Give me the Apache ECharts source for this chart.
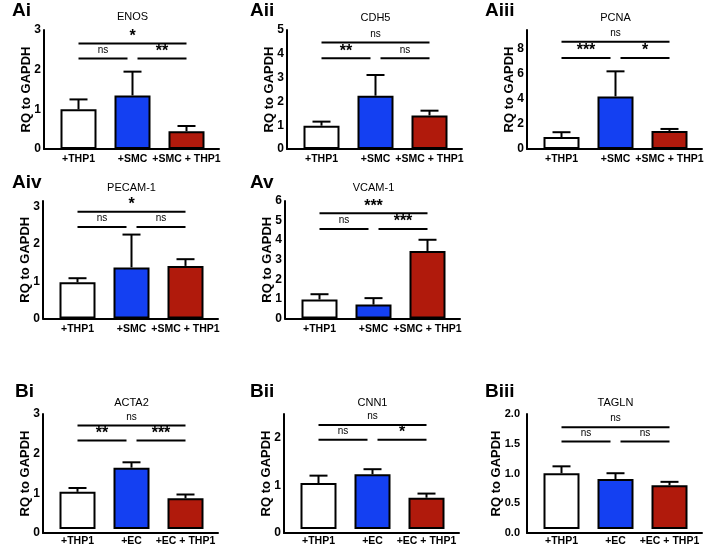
<!DOCTYPE html>
<html><head><meta charset="utf-8">
<script src="https://cdn.jsdelivr.net/npm/echarts@6/dist/echarts.min.js"></script>
<style>html,body{margin:0;padding:0;background:#fff}#c{width:708px;height:547px}</style>
</head><body><div id="c"></div>
<script>
// ---- data ----
const catsA = ['+THP1', '+SMC', '+SMC + THP1'];
const catsB = ['+THP1', '+EC', '+EC + THP1'];
const panelLabels = ['Ai', 'Aii', 'Aiii', 'Aiv', 'Av', 'Bi', 'Bii', 'Biii'];
const genes = ['ENOS', 'CDH5', 'PCNA', 'PECAM-1', 'VCAM-1', 'ACTA2', 'CNN1', 'TAGLN'];

const enosMean  = [1.0, 1.35, 0.45];  const enosErr  = [1.25, 1.95, 0.58];
const cdh5Mean  = [0.98, 2.24, 1.41]; const cdh5Err  = [1.15, 3.11, 1.61];
const pcnaMean  = [0.96, 4.2, 1.44];  const pcnaErr  = [1.34, 6.2, 1.6];
const pecamMean = [0.97, 1.37, 1.41]; const pecamErr = [1.08, 2.25, 1.59];
const vcamMean  = [0.97, 0.71, 3.45]; const vcamErr  = [1.24, 1.04, 4.02];
const acta2Mean = [0.97, 1.6, 0.80];  const acta2Err = [1.07, 1.74, 0.90];
const cnn1Mean  = [1.0, 1.19, 0.68];  const cnn1Err  = [1.16, 1.3, 0.77];
const taglnMean = [0.97, 0.87, 0.76]; const taglnErr = [1.09, 0.97, 0.82];

// significance labels: [first vs third, first vs second, second vs third]
const enosSig  = ['*', 'ns', '**'];    const enosSigY  = [2.66, 2.28];
const cdh5Sig  = ['ns', '**', 'ns'];   const cdh5SigY  = [4.48, 3.81];
const pcnaSig  = ['ns', '***', '*'];   const pcnaSigY  = [8.56, 7.27];
const pecamSig = ['*', 'ns', 'ns'];    const pecamSigY = [2.86, 2.45];
const vcamSig  = ['***', 'ns', '***']; const vcamSigY  = [5.38, 4.57];
const acta2Sig = ['ns', '**', '***'];  const acta2SigY = [2.70, 2.31];
const cnn1Sig  = ['ns', 'ns', '*'];    const cnn1SigY  = [2.26, 1.94];
const taglnSig = ['ns', 'ns', 'ns'];   const taglnSigY = [1.77, 1.52];

const yMaxes = [3, 5, 9.5, 3.15, 6, 3, 2.5, 2];
const yIntervals = [1, 1, 2, 1, 1, 1, 1, 0.5];
const barColors = ['#ffffff', '#1440F2', '#B01A0C'];

const means = [enosMean, cdh5Mean, pcnaMean, pecamMean, vcamMean, acta2Mean, cnn1Mean, taglnMean];
const errs = [enosErr, cdh5Err, pcnaErr, pecamErr, vcamErr, acta2Err, cnn1Err, taglnErr];
const sigs = [enosSig, cdh5Sig, pcnaSig, pecamSig, vcamSig, acta2Sig, cnn1Sig, taglnSig];
const sigYs = [enosSigY, cdh5SigY, pcnaSigY, pecamSigY, vcamSigY, acta2SigY, cnn1SigY, taglnSigY];
const cats = [catsA, catsA, catsA, catsA, catsA, catsB, catsB, catsB];

// ---- layout (pixels) ----
const axisLeft = [44, 287, 527, 43, 285, 43, 284, 527];
const gridTop = [30, 30, 30, 201, 201, 414, 414, 414];
const gridH = [119, 119, 119, 117.5, 117.5, 119, 119, 119];
const xLabelMargin = [5, 5, 5, 5, 5, 7, 7, 7];
const yLabelMargin = [3, 3, 3, 3, 3, 3, 3, 7];
const yLabelSize = [12, 12, 12, 12, 12, 12, 12, 11];
const yNameGap = [11, 11, 11, 11, 11, 11, 11, 24];
const labelPos = [[12, 1], [250, 1], [485, 1], [12, 173], [250, 173], [15, 382], [250, 382], [485, 382]];
const titleY = [11, 12, 12, 182, 182, 397, 397, 397];
const FRAME_W = 175, DATA_OFF = 7.5, DATA_W = 162;
const FONT = '"Liberation Sans", Arial, sans-serif';

const grids = [], xAxes = [], yAxes = [], series = [], titles = [];

function errRender(params, api) {
  const x = api.value(0);
  const base = api.coord([x, api.value(1)]);
  const top = api.coord([x, api.value(2)]);
  const cap = 9;
  const st = { stroke: '#000', lineWidth: 2 };
  return { type: 'group', children: [
    { type: 'line', shape: { x1: base[0], y1: base[1], x2: top[0], y2: top[1] }, style: st },
    { type: 'line', shape: { x1: top[0] - cap, y1: top[1], x2: top[0] + cap, y2: top[1] }, style: st }
  ]};
}
function makeBracketRender(sig) {
  return function (params, api) {
    const i = params.dataIndex;
    const y = api.value(2);
    const p1 = api.coord([api.value(0), y]);
    const p2 = api.coord([api.value(1), y]);
    let a = p1[0], b = p2[0];
    if (i === 1) b -= 5;
    if (i === 2) a += 5;
    const label = sig[i];
    const star = label !== 'ns';
    return { type: 'group', children: [
      { type: 'line', shape: { x1: a, y1: p1[1], x2: b, y2: p1[1] }, style: { stroke: '#000', lineWidth: 2 } },
      { type: 'text', x: (a + b) / 2, y: p1[1] - (star ? 7 : 8.5),
        style: { text: label, align: 'center', verticalAlign: 'middle',
          fontSize: star ? 16 : 10, fontWeight: star ? 'bold' : 'normal', fontFamily: FONT, fill: '#000' } }
    ]};
  };
}

for (let p = 0; p < 8; p++) {
  const L = axisLeft[p], T = gridTop[p], H = gridH[p];
  const fg = grids.length;
  grids.push({ left: L, top: T, width: FRAME_W, height: H });
  grids.push({ left: L + DATA_OFF, top: T, width: DATA_W, height: H });
  const dg = fg + 1;
  const ymax = yMaxes[p], itv = yIntervals[p];
  const showMax = Math.abs(ymax / itv - Math.round(ymax / itv)) < 1e-6;
  // frame axes
  xAxes.push({ gridIndex: fg, type: 'value', min: 0, max: 1,
    axisLine: { show: true, lineStyle: { color: '#000', width: 2 } },
    axisTick: { show: false }, axisLabel: { show: false }, splitLine: { show: false } });
  yAxes.push({ gridIndex: fg, type: 'value', min: 0, max: ymax, interval: itv,
    name: 'RQ to GAPDH', nameLocation: 'middle', nameGap: yNameGap[p], nameMoveOverlap: false,
    nameTextStyle: { fontFamily: FONT, fontWeight: 'bold', fontSize: 13, color: '#000' },
    axisLine: { show: true, lineStyle: { color: '#000', width: 2 } },
    axisTick: { show: false }, splitLine: { show: false },
    axisLabel: { margin: yLabelMargin[p], showMaxLabel: showMax, fontFamily: FONT, fontWeight: 'bold', fontSize: yLabelSize[p], color: '#000',
      formatter: v => itv < 1 ? v.toFixed(1) : String(v) } });
  // data axes
  const xi = xAxes.length;
  xAxes.push({ gridIndex: dg, type: 'category', data: cats[p],
    axisLine: { show: false }, axisTick: { show: false },
    axisLabel: { margin: xLabelMargin[p], interval: 0, fontFamily: FONT, fontWeight: 'bold', fontSize: 10.5, color: '#000' } });
  const yi = yAxes.length;
  yAxes.push({ gridIndex: dg, type: 'value', min: 0, max: ymax, show: false, splitLine: { show: false } });

  series.push({ type: 'bar', xAxisIndex: xi, yAxisIndex: yi, barWidth: 36,
    data: means[p].map((v, i) => ({ value: v, itemStyle: { color: barColors[i] } })),
    itemStyle: { borderColor: '#000', borderWidth: 2 }, silent: true, animation: false });
  series.push({ type: 'custom', xAxisIndex: xi, yAxisIndex: yi, renderItem: errRender, z: 3,
    data: means[p].map((v, i) => [i, v, errs[p][i]]), animation: false, silent: true });
  const sy = sigYs[p];
  series.push({ type: 'custom', xAxisIndex: xi, yAxisIndex: yi, renderItem: makeBracketRender(sigs[p]), z: 4,
    data: [[0, 2, sy[0]], [0, 1, sy[1]], [1, 2, sy[1]]], animation: false, silent: true });

  titles.push({ text: genes[p], left: L + FRAME_W / 2 + 1, top: titleY[p], textAlign: 'center', padding: 0,
    textStyle: { fontFamily: FONT, fontWeight: 'normal', fontSize: 11, color: '#000' } });
  titles.push({ text: panelLabels[p], left: labelPos[p][0], top: labelPos[p][1], padding: 0,
    textStyle: { fontFamily: FONT, fontWeight: 'bold', fontSize: 19, color: '#000' } });
}

const chart = echarts.init(document.getElementById('c'), null, { renderer: 'canvas' });
chart.setOption({ animation: false, backgroundColor: '#fff', title: titles, grid: grids, xAxis: xAxes, yAxis: yAxes, series: series });
</script></body></html>
